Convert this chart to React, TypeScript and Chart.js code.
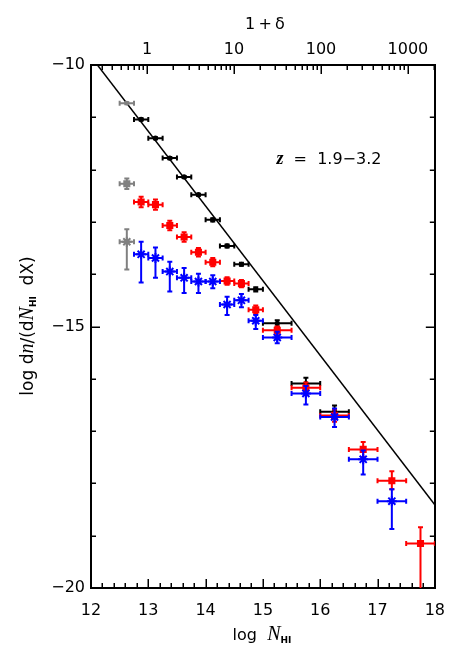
import React, { useEffect, useRef } from 'react';
import { Chart, registerables } from 'chart.js';

Chart.register(...registerables);

// ---- data ----
const binX = [12.875, 13.125, 13.375, 13.625, 13.875, 14.125, 14.375, 14.625, 14.875, 15.25, 15.75, 16.25, 16.75, 17.25, 17.75];
const binHalfWidth = [0.125, 0.125, 0.125, 0.125, 0.125, 0.125, 0.125, 0.125, 0.125, 0.25, 0.25, 0.25, 0.25, 0.25, 0.25];

const blackY = [-11.04, -11.40, -11.78, -12.14, -12.48, -12.96, -13.46, -13.81, -14.29, -14.94, -16.09, -16.63];
const blackErrHi = [0.02, 0.02, 0.02, 0.02, 0.02, 0.03, 0.03, 0.03, 0.04, 0.06, 0.11, 0.12];
const blackErrLo = [0.02, 0.02, 0.02, 0.02, 0.02, 0.03, 0.03, 0.03, 0.04, 0.06, 0.11, 0.12];

const redY = [-12.62, -12.67, -13.07, -13.29, -13.58, -13.77, -14.13, -14.18, -14.68, -15.07, -16.17, -16.70, -17.35, -17.95, -19.15];
const redErrHi = [0.1, 0.1, 0.09, 0.09, 0.08, 0.08, 0.07, 0.07, 0.08, 0.07, 0.1, 0.12, 0.14, 0.18, 0.31];
const redErrLo = [0.1, 0.1, 0.09, 0.09, 0.08, 0.08, 0.07, 0.07, 0.08, 0.07, 0.1, 0.12, 0.15, 0.16, 1.5];

const blueY = [-13.62, -13.69, -13.95, -14.07, -14.14, -14.14, -14.58, -14.50, -14.89, -15.21, -16.28, -16.73, -17.54, -18.34];
const blueErrHi = [0.24, 0.2, 0.19, 0.19, 0.15, 0.12, 0.15, 0.12, 0.11, 0.11, 0.14, 0.16, 0.17, 0.23];
const blueErrLo = [0.54, 0.38, 0.38, 0.29, 0.22, 0.13, 0.2, 0.13, 0.16, 0.11, 0.21, 0.19, 0.29, 0.53];

const grayX = [12.625, 12.625, 12.625];
const grayY = [-10.73, -12.27, -13.38];
const grayErrHi = [0.02, 0.1, 0.24];
const grayErrLo = [0.02, 0.1, 0.53];
const grayHalfWidth = [0.125, 0.125, 0.125];

const lineX = [12, 18];
const lineY = [-9.84, -18.41];

const xTickLabels = [12, 13, 14, 15, 16, 17, 18];
const yTickLabels = [-20, -15, -10];
const topTickLabels = [1, 10, 100, 1000];
const topMin = 0.227;
const topMax = 2037;

const FONT = 'DejaVu Sans';
const SERIF = 'Liberation Serif';

// minor tick positions
const xMinor: number[] = [];
for (let i = 0; i <= 30; i++) xMinor.push(12 + i * 0.2);
const yMinor: number[] = [];
for (let v = -20; v <= -10; v++) yMinor.push(v);
const topMinor: number[] = [];
for (let d = 0.1; d <= 1000; d *= 10) {
  for (let k = 1; k <= 9; k++) {
    const v = Math.round(k * d * 1000) / 1000;
    if (v >= topMin && v <= topMax) topMinor.push(v);
  }
}

const pts = (xs: number[], ys: number[]) => ys.map((y, i) => ({ x: xs[i], y }));

const errorBarPlugin = {
  id: 'errorBars',
  beforeDatasetDraw(chart: any, args: any) {
    const ds = chart.data.datasets[args.index];
    if (!ds.errHi) return;
    const { ctx, chartArea: ca } = chart;
    const xs = chart.scales.x;
    const ys = chart.scales.y;
    ctx.save();
    ctx.beginPath();
    ctx.rect(ca.left, ca.top, ca.right - ca.left, ca.bottom - ca.top);
    ctx.clip();
    ctx.strokeStyle = ds.errColor;
    ctx.lineWidth = 2;
    const cap = 2.5;
    ds.data.forEach((p: any, i: number) => {
      const px = xs.getPixelForValue(p.x);
      const py = ys.getPixelForValue(p.y);
      const x0 = xs.getPixelForValue(p.x - ds.errXW[i]);
      const x1 = xs.getPixelForValue(p.x + ds.errXW[i]);
      const yt = ys.getPixelForValue(p.y + ds.errHi[i]);
      const yb = ys.getPixelForValue(p.y - ds.errLo[i]);
      ctx.beginPath();
      ctx.moveTo(x0, py); ctx.lineTo(x1, py);
      ctx.moveTo(x0, py - cap); ctx.lineTo(x0, py + cap);
      ctx.moveTo(x1, py - cap); ctx.lineTo(x1, py + cap);
      ctx.moveTo(px, yt); ctx.lineTo(px, yb);
      ctx.moveTo(px - cap, yt); ctx.lineTo(px + cap, yt);
      ctx.moveTo(px - cap, yb); ctx.lineTo(px + cap, yb);
      ctx.stroke();
    });
    ctx.restore();
  },
};

const tickPlugin = {
  id: 'inwardTicks',
  afterDatasetsDraw(chart: any) {
    const { ctx, chartArea: ca, scales } = chart;
    const x = scales.x, y = scales.y, x2 = scales.x2;
    ctx.save();
    ctx.strokeStyle = '#000';
    ctx.lineWidth = 1.5;
    ctx.beginPath();
    xMinor.forEach((v) => {
      const p = Math.round(x.getPixelForValue(v)) + 0.25;
      const major = Math.abs(v - Math.round(v)) < 1e-6;
      const L = major ? 9 : 5;
      ctx.moveTo(p, ca.bottom); ctx.lineTo(p, ca.bottom - L);
    });
    topMinor.forEach((v) => {
      const p = Math.round(x2.getPixelForValue(v)) + 0.25;
      const major = topTickLabels.includes(v);
      const L = major ? 9 : 5;
      ctx.moveTo(p, ca.top); ctx.lineTo(p, ca.top + L);
    });
    yMinor.forEach((v) => {
      const p = Math.round(y.getPixelForValue(v)) + 0.25;
      const major = yTickLabels.includes(v);
      const L = major ? 9 : 5;
      ctx.moveTo(ca.left, p); ctx.lineTo(ca.left + L, p);
      ctx.moveTo(ca.right, p); ctx.lineTo(ca.right - L, p);
    });
    ctx.stroke();
    ctx.restore();
  },
};

type Seg = { t: string; f: string; dy?: number };
function drawRich(ctx: CanvasRenderingContext2D, segs: Seg[], cx: number, baseY: number) {
  let total = 0;
  const widths = segs.map((s) => { ctx.font = s.f; const w = ctx.measureText(s.t).width; total += w; return w; });
  let x = cx - total / 2;
  segs.forEach((s, i) => {
    ctx.font = s.f;
    ctx.fillText(s.t, x, baseY + (s.dy || 0));
    x += widths[i];
  });
}

const titlePlugin = {
  id: 'titles',
  afterDraw(chart: any) {
    const { ctx } = chart;
    ctx.save();
    ctx.fillStyle = '#000';
    ctx.textBaseline = 'alphabetic';
    ctx.textAlign = 'left';
    // top title
    drawRich(ctx, [{ t: '1\u2009+\u2009\u03b4', f: `16px "${FONT}"` }], 265, 29);
    // bottom title
    drawRich(ctx, [
      { t: 'log  ', f: `16px "${FONT}"` },
      { t: 'N', f: `italic 20px "${SERIF}"` },
      { t: 'HI', f: `bold 9px "${FONT}"`, dy: 3 },
    ], 262, 640);
    // y title
    ctx.save();
    ctx.translate(27, 326);
    ctx.rotate(-Math.PI / 2);
    drawRich(ctx, [
      { t: 'log d', f: `17px "${FONT}"` },
      { t: 'n', f: `italic 20px "${SERIF}"` },
      { t: '/(d', f: `17px "${FONT}"` },
      { t: 'N', f: `italic 20px "${SERIF}"` },
      { t: 'HI', f: `bold 9px "${FONT}"`, dy: 3 },
      { t: '  dX)', f: `17px "${FONT}"` },
    ], 0, 6);
    ctx.restore();
    // annotation
    const ax = chart.scales.x.getPixelForValue(15.235);
    const ay = chart.scales.y.getPixelForValue(-11.9);
    ctx.font = `italic bold 18px "${SERIF}"`;
    ctx.fillText('z', ax, ay);
    const zw = ctx.measureText('z').width;
    ctx.font = `16px "${FONT}"`;
    ctx.fillText('  =  1.9\u22123.2', ax + zw, ay);
    ctx.restore();
  },
};

export default function App() {
  const ref = useRef<HTMLCanvasElement>(null);
  useEffect(() => {
    Chart.defaults.font.family = FONT;
    Chart.defaults.color = '#000';
    const tickFont = { family: FONT, size: 16 };
    const chart = new Chart(ref.current as HTMLCanvasElement, {
      type: 'scatter',
      data: {
        datasets: [
          {
            label: 'blue',
            data: pts(binX, blueY),
            pointStyle: 'star',
            pointRadius: 5,
            borderWidth: 2,
            borderColor: '#0000ff',
            backgroundColor: '#0000ff',
            errXW: binHalfWidth, errHi: blueErrHi, errLo: blueErrLo, errColor: '#0000ff',
          } as any,
          {
            label: 'red',
            data: pts(binX, redY),
            pointStyle: 'rect',
            pointRadius: 5,
            borderWidth: 0,
            borderColor: '#ff0000',
            backgroundColor: '#ff0000',
            errXW: binHalfWidth, errHi: redErrHi, errLo: redErrLo, errColor: '#ff0000',
          } as any,
          {
            label: 'black',
            data: pts(binX, blackY),
            pointStyle: 'circle',
            pointRadius: 2.6,
            borderWidth: 0,
            borderColor: '#000',
            backgroundColor: '#000',
            errXW: binHalfWidth, errHi: blackErrHi, errLo: blackErrLo, errColor: '#000',
          } as any,
          {
            label: 'gray',
            data: pts(grayX, grayY),
            pointStyle: ['circle', 'rect', 'star'],
            pointRadius: [2.4, 5, 5],
            borderWidth: [0, 0, 2],
            borderColor: '#808080',
            backgroundColor: '#808080',
            errXW: grayHalfWidth, errHi: grayErrHi, errLo: grayErrLo, errColor: '#808080',
          } as any,
          {
            label: 'line',
            data: pts(lineX, lineY),
            showLine: true,
            pointRadius: 0,
            borderColor: '#000',
            borderWidth: 1.5,
          } as any,
        ],
      },
      options: {
        responsive: false,
        animation: false,
        events: [],
        layout: { padding: 0 },
        plugins: { legend: { display: false }, tooltip: { enabled: false } },
        scales: {
          x: {
            type: 'linear',
            position: 'bottom',
            min: 12,
            max: 18,
            afterBuildTicks: (s: any) => { s.ticks = xTickLabels.map((v) => ({ value: v })); },
            ticks: { font: tickFont, color: '#000', padding: 13, autoSkip: false, maxRotation: 0, callback: (v: any) => String(v) },
            grid: { display: false, drawTicks: false },
            border: { display: true, color: '#000', width: 2 },
            afterFit: (s: any) => { s.height = 66; },
          },
          x2: {
            type: 'logarithmic',
            position: 'top',
            min: topMin,
            max: topMax,
            afterBuildTicks: (s: any) => { s.ticks = topTickLabels.map((v) => ({ value: v })); },
            ticks: { font: tickFont, color: '#000', padding: 6, autoSkip: false, maxRotation: 0, callback: (v: any) => String(v) },
            grid: { display: false, drawTicks: false },
            border: { display: true, color: '#000', width: 2 },
            afterFit: (s: any) => { s.height = 65; },
          },
          y: {
            type: 'linear',
            position: 'left',
            min: -20,
            max: -10,
            afterBuildTicks: (s: any) => { s.ticks = yTickLabels.map((v) => ({ value: v })); },
            ticks: { font: tickFont, color: '#000', padding: 6, callback: (v: any) => '\u2212' + Math.abs(v) },
            grid: { display: false, drawTicks: false },
            border: { display: true, color: '#000', width: 2 },
            afterFit: (s: any) => { s.width = 91; },
          },
          y2: {
            type: 'linear',
            position: 'right',
            min: -20,
            max: -10,
            ticks: { display: false },
            grid: { display: false, drawTicks: false },
            border: { display: true, color: '#000', width: 2 },
            afterFit: (s: any) => { s.width = 23; },
          },
        },
      } as any,
      plugins: [errorBarPlugin, tickPlugin, titlePlugin],
    });
    return () => chart.destroy();
  }, []);
  return (
    <div style={{ position: 'fixed', left: 0, top: 0, width: 458, height: 654, background: '#fff' }}>
      <canvas ref={ref} width={458} height={654} style={{ display: 'block', width: 458, height: 654 }} />
    </div>
  );
}
